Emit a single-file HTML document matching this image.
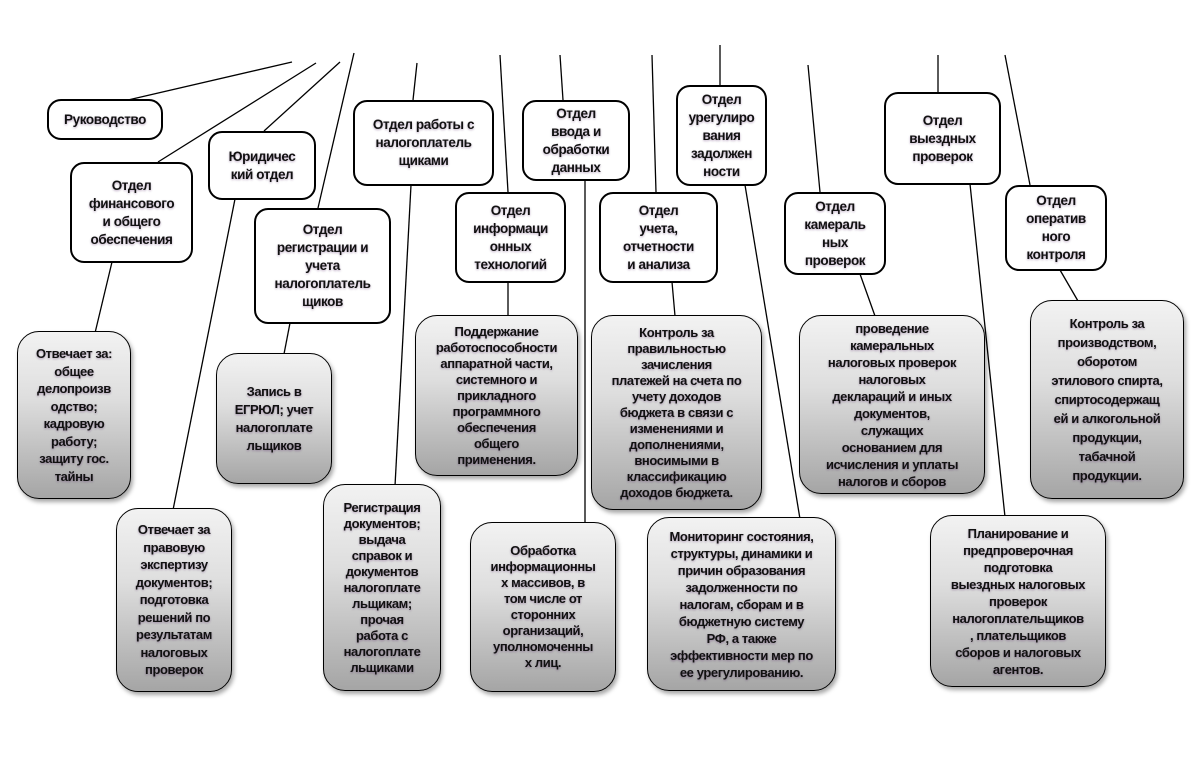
<!DOCTYPE html>
<html><head><meta charset="utf-8">
<style>
html,body{margin:0;padding:0;background:#fff;}
#c{position:relative;width:1200px;height:759px;overflow:hidden;font-family:"Liberation Sans","DejaVu Sans",sans-serif;}
svg{position:absolute;left:0;top:0;}
.b{position:absolute;box-sizing:border-box;border:2.5px solid #000;border-radius:14px;background:#fff;display:flex;align-items:center;justify-content:center;text-align:center;font-weight:bold;font-size:13.5px;line-height:18px;color:#111;white-space:nowrap;letter-spacing:-0.4px;text-shadow:0 1px 2px rgba(60,0,80,0.35);}
.g{border:1.5px solid #000;border-radius:22px;background:linear-gradient(#f2f2f2,#dedede 40%,#a5a5a5);font-size:13px;line-height:16px;box-shadow:2px 3px 4px rgba(0,0,0,0.35);}
</style></head><body><div id="c">
<svg width="1200" height="759"><g stroke="#000" stroke-width="1.3" fill="none">
<line x1="292" y1="62" x2="128" y2="100"/>
<line x1="316" y1="63" x2="158" y2="162"/>
<line x1="340" y1="62" x2="264" y2="131"/>
<line x1="354" y1="53" x2="318" y2="208"/>
<line x1="417" y1="63" x2="413" y2="100"/>
<line x1="500" y1="55" x2="508" y2="192"/>
<line x1="560" y1="55" x2="563" y2="100"/>
<line x1="652" y1="55" x2="656" y2="192"/>
<line x1="720" y1="45" x2="720" y2="85"/>
<line x1="808" y1="65" x2="820" y2="192"/>
<line x1="938" y1="55" x2="938" y2="92"/>
<line x1="1005" y1="55" x2="1030" y2="185"/>
<line x1="112" y1="262" x2="95" y2="333"/>
<line x1="235" y1="199" x2="173" y2="510"/>
<line x1="290" y1="323" x2="284" y2="354"/>
<line x1="411" y1="185" x2="395" y2="486"/>
<line x1="508" y1="282" x2="508" y2="316"/>
<line x1="585" y1="180" x2="585" y2="524"/>
<line x1="672" y1="282" x2="675" y2="316"/>
<line x1="745" y1="185" x2="800" y2="519"/>
<line x1="860" y1="274" x2="875" y2="316"/>
<line x1="970" y1="184" x2="1005" y2="517"/>
<line x1="1060" y1="270" x2="1078" y2="301"/>
</g></svg>

<div class="b" style="left:47px;top:99px;width:116px;height:41px;">Руководство</div>
<div class="b" style="left:70px;top:162px;width:123px;height:101px;">Отдел<br>финансового<br>и общего<br>обеспечения</div>
<div class="b" style="left:208px;top:131px;width:108px;height:69px;">Юридичес<br>кий отдел</div>
<div class="b" style="left:254px;top:208px;width:137px;height:116px;">Отдел<br>регистрации и<br>учета<br>налогоплатель<br>щиков</div>
<div class="b" style="left:353px;top:100px;width:141px;height:86px;">Отдел работы с<br>налогоплатель<br>щиками</div>
<div class="b" style="left:522px;top:100px;width:108px;height:81px;">Отдел<br>ввода и<br>обработки<br>данных</div>
<div class="b" style="left:455px;top:192px;width:111px;height:91px;">Отдел<br>информаци<br>онных<br>технологий</div>
<div class="b" style="left:676px;top:85px;width:91px;height:101px;">Отдел<br>урегулиро<br>вания<br>задолжен<br>ности</div>
<div class="b" style="left:599px;top:192px;width:119px;height:91px;">Отдел<br>учета,<br>отчетности<br>и анализа</div>
<div class="b" style="left:784px;top:192px;width:102px;height:83px;">Отдел<br>камераль<br>ных<br>проверок</div>
<div class="b" style="left:884px;top:92px;width:117px;height:93px;">Отдел<br>выездных<br>проверок</div>
<div class="b" style="left:1005px;top:185px;width:102px;height:86px;">Отдел<br>оператив<br>ного<br>контроля</div>

<div class="b g" style="left:17px;top:331px;width:114px;height:168px;line-height:17.5px;">Отвечает за:<br>общее<br>делопроизв<br>одство;<br>кадровую<br>работу;<br>защиту гос.<br>тайны</div>
<div class="b g" style="left:116px;top:508px;width:116px;height:184px;line-height:17.5px;">Отвечает за<br>правовую<br>экспертизу<br>документов;<br>подготовка<br>решений по<br>результатам<br>налоговых<br>проверок</div>
<div class="b g" style="left:216px;top:353px;width:116px;height:131px;line-height:18px;">Запись в<br>ЕГРЮЛ; учет<br>налогоплате<br>льщиков</div>
<div class="b g" style="left:323px;top:484px;width:118px;height:207px;">Регистрация<br>документов;<br>выдача<br>справок и<br>документов<br>налогоплате<br>льщикам;<br>прочая<br>работа с<br>налогоплате<br>льщиками</div>
<div class="b g" style="left:415px;top:315px;width:163px;height:161px;">Поддержание<br>работоспособности<br>аппаратной части,<br>системного и<br>прикладного<br>программного<br>обеспечения<br>общего<br>применения.</div>
<div class="b g" style="left:470px;top:522px;width:146px;height:170px;">Обработка<br>информационны<br>х массивов, в<br>том числе от<br>сторонних<br>организаций,<br>уполномоченны<br>х лиц.</div>
<div class="b g" style="left:591px;top:315px;width:171px;height:195px;">Контроль за<br>правильностью<br>зачисления<br>платежей на счета по<br>учету доходов<br>бюджета в связи с<br>изменениями и<br>дополнениями,<br>вносимыми в<br>классификацию<br>доходов бюджета.</div>
<div class="b g" style="left:647px;top:517px;width:189px;height:174px;line-height:17px;">Мониторинг состояния,<br>структуры, динамики и<br>причин образования<br>задолженности по<br>налогам, сборам и в<br>бюджетную систему<br>РФ, а также<br>эффективности мер по<br>ее урегулированию.</div>
<div class="b g" style="left:799px;top:315px;width:186px;height:179px;line-height:17px;">проведение<br>камеральных<br>налоговых проверок<br>налоговых<br>деклараций и иных<br>документов,<br>служащих<br>основанием для<br>исчисления и уплаты<br>налогов и сборов</div>
<div class="b g" style="left:930px;top:515px;width:176px;height:172px;line-height:17px;">Планирование и<br>предпроверочная<br>подготовка<br>выездных налоговых<br>проверок<br>налогоплательщиков<br>, плательщиков<br>сборов и налоговых<br>агентов.</div>
<div class="b g" style="left:1030px;top:300px;width:154px;height:199px;line-height:19px;">Контроль за<br>производством,<br>оборотом<br>этилового спирта,<br>спиртосодержащ<br>ей и алкогольной<br>продукции,<br>табачной<br>продукции.</div>
</div></body></html>
